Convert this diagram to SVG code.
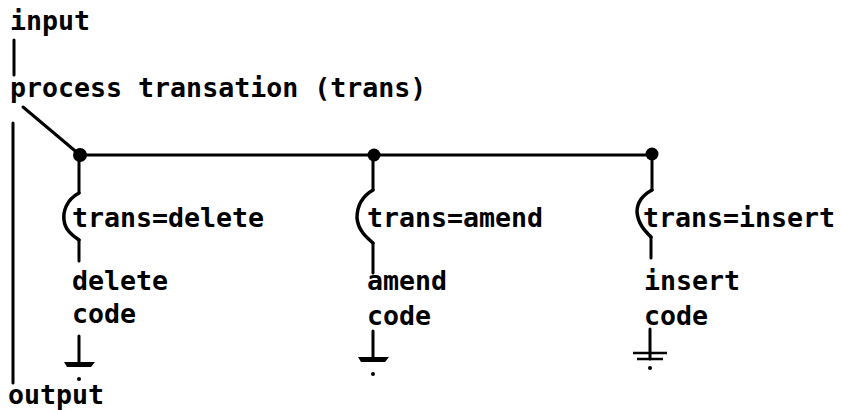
<svg xmlns="http://www.w3.org/2000/svg" width="842" height="410" viewBox="0 0 842 410">
<style>
text{font-family:"DejaVu Sans Mono","Liberation Mono",monospace;font-size:26.6px;font-weight:bold;fill:#000}
.ln{stroke:#000;stroke-width:3;fill:none;stroke-linecap:round;stroke-linejoin:round}
.br{stroke:#000;stroke-width:3.5;fill:none;stroke-linecap:round}
.dot{fill:#000}
</style>
<defs>
<g id="gnd">
<line class="ln" x1="0" y1="0" x2="0" y2="28"/>
<path d="M-15,26 L16,26 L12,31 L-12,31 Z" fill="#000"/>
<circle cx="0" cy="43" r="2" fill="#000"/>
</g>
</defs>
<rect width="842" height="410" fill="#fff"/>
<g id="connectors">
<line class="ln" x1="14" y1="40" x2="14" y2="75"/>
<line class="ln" x1="23" y1="107" x2="80" y2="155"/>
<line class="ln" x1="13" y1="123" x2="13" y2="383"/>
<line class="ln" x1="80" y1="155" x2="652" y2="155"/>
<circle class="dot" cx="80" cy="155" r="7"/>
<circle class="dot" cx="374" cy="155" r="6.5"/>
<circle class="dot" cx="652" cy="154" r="6.5"/>
<path class="ln" d="M79,155 L79,193"/>
<path class="br" d="M79,193 C66,200 63,212 64,220 C65,230 72,235 79,240"/>
<path class="ln" d="M79,240 L79,261"/>
<path class="ln" d="M373,155 L373,190"/>
<path class="br" d="M373,190 C361,197 357,208 357,218 C358,230 366,237 373,243"/>
<path class="ln" d="M373,243 L373,273"/>
<path class="ln" d="M652,155 L652,190"/>
<path class="br" d="M652,190 C641,196 637,204 637,212 C638,224 645,231 651,237"/>
<path class="ln" d="M651,237 L651,258"/>
</g>
<g id="input"><text x="10" y="30">input</text></g>
<g id="process"><text x="10" y="97">process transation (trans)</text></g>
<g id="output"><text x="8" y="404">output</text></g>
<g id="delete">
<text x="72" y="227">trans=delete</text>
<text x="72" y="290">delete</text>
<text x="72" y="323">code</text>
<use href="#gnd" x="79" y="336"/>
</g>
<g id="amend">
<text x="367" y="227">trans=amend</text>
<text x="367" y="290">amend</text>
<text x="367" y="325">code</text>
<use href="#gnd" x="373" y="331"/>
</g>
<g id="insert">
<text x="643" y="227">trans=insert</text>
<text x="644" y="290">insert</text>
<text x="644" y="325">code</text>
<g transform="translate(650,329)">
<line class="ln" x1="0" y1="0" x2="0" y2="30"/>
<line x1="-17" y1="24" x2="17" y2="24" stroke="#000" stroke-width="2.5"/>
<line x1="-13" y1="30" x2="13" y2="30" stroke="#000" stroke-width="2.5"/>
<circle cx="0" cy="39" r="2" fill="#000"/>
</g>
</g>
</svg>
